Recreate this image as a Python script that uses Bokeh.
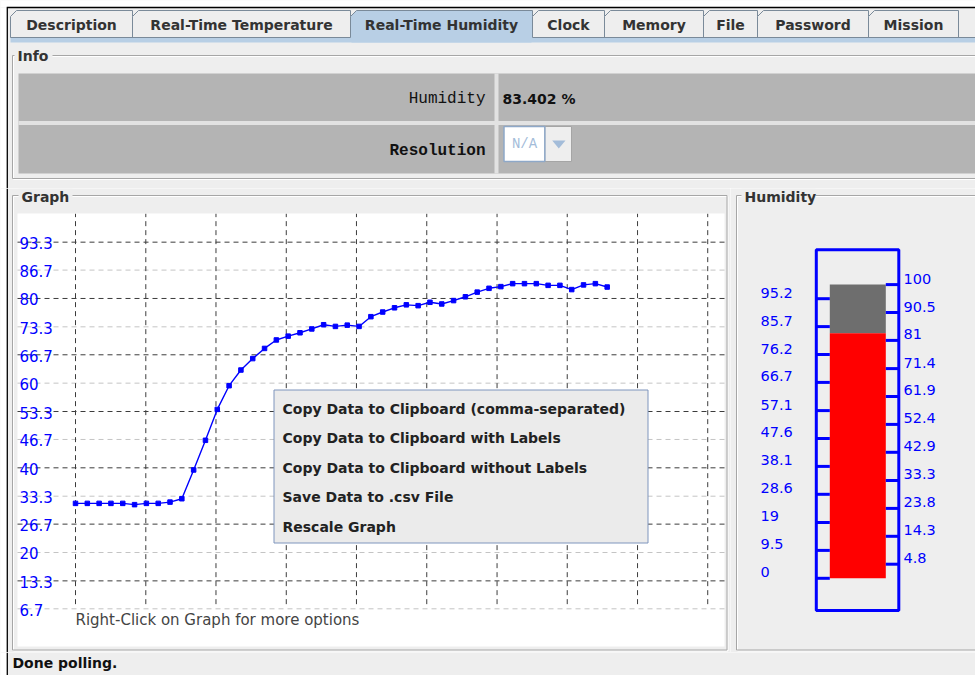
from bokeh.plotting import figure
from bokeh.models import Range1d
from bokeh.layouts import column, row
from bokeh.embed import file_html
from bokeh.resources import INLINE
from bokeh.core.properties import value

# ---------------- data ----------------
sample_index = list(range(46))
humidity = [31.6, 31.6, 31.6, 31.6, 31.6, 31.3, 31.6, 31.6, 31.9, 32.7,
            39.5, 46.5, 53.8, 59.4, 63.1, 65.8, 68.2, 70.2, 71.1, 71.9,
            72.8, 73.8, 73.4, 73.7, 73.4, 75.7, 76.8, 77.8, 78.5, 78.3,
            79.1, 78.7, 79.5, 80.4, 81.5, 82.4, 82.8, 83.5, 83.5, 83.5,
            83.1, 83.1, 82.1, 83.2, 83.5, 82.7]
graph_ticks_dark = [13.3, 26.7, 40, 53.3, 66.7, 80, 93.3]
graph_ticks_light = [6.7, 20, 33.3, 46.7, 60, 73.3, 86.7]
graph_tick_labels = ["6.7", "13.3", "20", "26.7", "33.3", "40", "46.7",
                     "53.3", "60", "66.7", "73.3", "80", "86.7", "93.3"]
graph_tick_values = [6.7, 13.3, 20, 26.7, 33.3, 40, 46.7, 53.3, 60, 66.7,
                     73.3, 80, 86.7, 93.3]
graph_vgrid = [0, 5.95, 11.89, 17.84, 23.78, 29.73, 35.68, 41.62, 47.57, 53.51]

current_humidity = 83.402
gauge_max = 100
gauge_left_ticks = [0, 9.5, 19, 28.6, 38.1, 47.6, 57.1, 66.7, 76.2, 85.7, 95.2]
gauge_left_labels = ["0", "9.5", "19", "28.6", "38.1", "47.6", "57.1", "66.7",
                     "76.2", "85.7", "95.2"]
gauge_right_ticks = [4.8, 14.3, 23.8, 33.3, 42.9, 52.4, 61.9, 71.4, 81, 90.5, 100]
gauge_right_labels = ["4.8", "14.3", "23.8", "33.3", "42.9", "52.4", "61.9",
                      "71.4", "81", "90.5", "100"]

tab_names = ["Description", "Real-Time Temperature", "Real-Time Humidity",
             "Clock", "Memory", "File", "Password", "Mission"]
tab_edges = [10, 132, 350, 532, 604, 703, 757, 868, 958]
selected_tab = 2
menu_items = ["Copy Data to Clipboard (comma-separated)",
              "Copy Data to Clipboard with Labels",
              "Copy Data to Clipboard without Labels",
              "Save Data to .csv File",
              "Rescale Graph"]

# ---------------- styles ----------------
BG = "#eeeeee"
BLUE = "#0000ff"
FONT = value("DejaVu Sans")
MONO = value("Liberation Mono")
TXT = "#333333"
W, H = 975, 675


def base_fig(w, h, xr, yr):
    p = figure(width=w, height=h, x_range=xr, y_range=yr,
               toolbar_location=None, output_backend="svg",
               x_axis_location=None, y_axis_location=None,
               min_border=0, outline_line_color=None, title=None)
    p.min_border_left = p.min_border_right = 0
    p.min_border_top = p.min_border_bottom = 0
    p.background_fill_color = BG
    p.border_fill_color = BG
    p.xgrid.visible = False
    p.ygrid.visible = False
    return p


def window_edge(p, y0, y1, **kw):
    p.quad(left=[-5], right=[6.2], top=[y0], bottom=[y1], fill_color="#ffffff",
           line_color=None, **kw)
    p.segment(x0=[6.8], y0=[max(y0, 6.6)], x1=[6.8], y1=[y1],
              line_color="#000000", line_width=1.3, **kw)


def etched(p, l, t, r, b, **kw):
    p.quad(left=[l + 1], right=[r + 1], top=[t + 1], bottom=[b + 1],
           fill_color=None, line_color="#ffffff", line_width=1, **kw)
    p.quad(left=[l], right=[r], top=[t], bottom=[b],
           fill_color=None, line_color="#a6a6a6", line_width=1, **kw)


def titled(p, x, y, text, w, **kw):
    p.quad(left=[x - 3], right=[x + w + 3], top=[y - 8], bottom=[y + 8],
           fill_color=BG, line_color=None, **kw)
    p.text(x=[x], y=[y], text=[text], text_font=FONT, text_font_style="bold",
           text_font_size="14px", text_color=TXT, text_baseline="middle",
           text_align="left", **kw)


# ---------------- top chrome (tabs + info) ----------------
top = base_fig(W, 188, Range1d(0, W), Range1d(188, 0))
top.quad(left=[-5], right=[W + 5], top=[-5], bottom=[6.4], fill_color="#ffffff",
         line_color=None)
top.segment(x0=[6.2], y0=[7.0], x1=[W + 5], y1=[7.0], line_color="#000000",
            line_width=1.3)
window_edge(top, 7, 188)
for i, name in enumerate(tab_names):
    x0, x1 = tab_edges[i], tab_edges[i + 1]
    fill = "#b8cfe5" if i == selected_tab else BG
    bot = 41 if i == selected_tab else 37
    top.patch(x=[x0, x0, x0 + 6, x1, x1], y=[bot, 16, 10, 10, bot],
              fill_color=fill, line_color="#7a8a99", line_width=1)
    top.text(x=[(x0 + x1) / 2], y=[24], text=[name], text_font=FONT,
             text_font_style="bold", text_font_size="14px", text_color=TXT,
             text_align="center", text_baseline="middle")
top.quad(left=[10], right=[W + 5], top=[37], bottom=[42], fill_color="#b8cfe5",
         line_color=None)
top.segment(x0=[10, tab_edges[selected_tab + 1]], y0=[37, 37],
            x1=[tab_edges[selected_tab], W + 5], y1=[37, 37],
            line_color="#7a8a99", line_width=1)
top.quad(left=[tab_edges[selected_tab] + 1], right=[tab_edges[selected_tab + 1] - 1],
         top=[36], bottom=[42], fill_color="#b8cfe5", line_color=None)
etched(top, 12, 55, 990, 178)
titled(top, 17, 55, "Info", 32)
top.quad(left=[18], right=[990], top=[73], bottom=[173], fill_color="#b4b4b4",
         line_color=None)
top.quad(left=[494], right=[498], top=[73], bottom=[173], fill_color="#e2e2e2",
         line_color=None)
top.quad(left=[18], right=[990], top=[120.5], bottom=[124.5], fill_color="#e2e2e2",
         line_color=None)
top.text(x=[485], y=[98], text=["Humidity"], text_font=MONO, text_font_size="16px",
         text_color="#111111", text_align="right", text_baseline="middle")
top.text(x=[485], y=[150], text=["Resolution"], text_font=MONO, text_font_style="bold",
         text_font_size="16px", text_color="#111111", text_align="right",
         text_baseline="middle")
top.text(x=[502], y=[98], text=[f"{current_humidity} %"], text_font=FONT,
         text_font_style="bold", text_font_size="14px", text_color="#111111",
         text_align="left", text_baseline="middle")
top.quad(left=[544.3], right=[571], top=[126], bottom=[161], fill_color=BG,
         line_color="#a5a5a5", line_width=1)
top.quad(left=[503.5], right=[544.3], top=[126], bottom=[161], fill_color="#ffffff",
         line_color="#8ea8c8", line_width=1.5)
top.text(x=[524], y=[143.5], text=["N/A"], text_font=MONO, text_font_size="14px",
         text_color="#a3bcd9", text_align="center", text_baseline="middle")
top.patch(x=[551.7, 565, 558.3], y=[140, 140, 148], fill_color="#a3bcd9",
          line_color=None)

# ---------------- graph ----------------
PX_PER_SAMPLE = 11.815
X0_PX = 75.0
Y100_PX = 213.3
PX_PER_Y = 4.2337
gL, gR, gT, gB = 0, 730, 188, 652


def gx(px):
    return (px - X0_PX) / PX_PER_SAMPLE


def gy(py):
    return 100 - (py - Y100_PX) / PX_PER_Y


graph = base_fig(gR - gL, gB - gT, Range1d(gx(gL), gx(gR)), Range1d(gy(gB), gy(gT)))
graph.extra_x_ranges = {"px": Range1d(gL, gR)}
graph.extra_y_ranges = {"px": Range1d(gB, gT)}
PX = dict(x_range_name="px", y_range_name="px")
window_edge(graph, gT, gB, **PX)
etched(graph, 12, 195, 726.5, 649.5, **PX)
titled(graph, 21, 196, "Graph", 48, **PX)
graph.quad(left=[17], right=[724], top=[213], bottom=[646], fill_color="#ffffff",
           line_color=None, **PX)

xl, xr = gx(17), gx(724)
graph.segment(x0=[xl] * len(graph_ticks_light), x1=[xr] * len(graph_ticks_light),
              y0=graph_ticks_light, y1=graph_ticks_light,
              line_color="#c4c4c4", line_width=1, line_dash="5 4")
graph.segment(x0=[xl] * len(graph_ticks_dark), x1=[xr] * len(graph_ticks_dark),
              y0=graph_ticks_dark, y1=graph_ticks_dark,
              line_color="#3c3c3c", line_width=1, line_dash="5 4")
graph.segment(x0=graph_vgrid, x1=graph_vgrid, y0=[7.8] * len(graph_vgrid),
              y1=[100] * len(graph_vgrid), line_color="#3c3c3c", line_width=1,
              line_dash="5 4")
graph.text(x=[gx(19)] * len(graph_tick_values), y=graph_tick_values,
           text=graph_tick_labels, text_font=FONT, text_font_size="15px",
           text_color=BLUE, text_align="left", text_baseline="alphabetic",
           y_offset=1)
graph.line(x=sample_index, y=humidity, line_color=BLUE, line_width=1.4)
graph.scatter(x=sample_index, y=humidity, marker="square", size=4.5,
              fill_color=BLUE, line_color=BLUE)
graph.text(x=[75], y=[619], text=["Right-Click on Graph for more options"],
           text_font=FONT, text_font_size="15px", text_color="#444444",
           text_align="left", text_baseline="middle", **PX)
# context menu
graph.quad(left=[273.5], right=[647.5], top=[389.5], bottom=[542.5],
           fill_color="#ebebeb", line_color="#7f95bd", line_width=1, **PX)
menu_y = [408, 437.5, 467, 496.5, 526]
graph.text(x=[282] * len(menu_items), y=menu_y, text=menu_items, text_font=FONT,
           text_font_style="bold", text_font_size="14px", text_color="#222222",
           text_align="left", text_baseline="middle", **PX)

# ---------------- gauge ----------------
Y0_PX = 577.8
PX_PER_G = 2.937


def vy(py):
    return (Y0_PX - py) / PX_PER_G


gauge = base_fig(W - gR, gB - gT, Range1d(gR, W), Range1d(vy(gB), vy(gT)))
gauge.extra_y_ranges = {"px": Range1d(gB, gT)}
GP = dict(y_range_name="px")
etched(gauge, 736, 195, 990, 649.5, **GP)
titled(gauge, 744, 196, "Humidity", 68, **GP)
gauge.quad(left=[829.3], right=[885.3], bottom=[current_humidity], top=[gauge_max],
           fill_color="#6e6e6e", line_color=None)
gauge.quad(left=[829.3], right=[885.3], bottom=[0], top=[current_humidity],
           fill_color="#ff0000", line_color=None)
gauge.segment(x0=[815.8] * len(gauge_left_ticks), x1=[829.3] * len(gauge_left_ticks),
              y0=gauge_left_ticks, y1=gauge_left_ticks, line_color=BLUE, line_width=3)
gauge.segment(x0=[885.3] * len(gauge_right_ticks), x1=[898.3] * len(gauge_right_ticks),
              y0=gauge_right_ticks, y1=gauge_right_ticks, line_color=BLUE, line_width=3)
gauge.quad(left=[815.8], right=[898.3], top=[249.3], bottom=[610], fill_color=None,
           line_color=BLUE, line_width=3, **GP)
gauge.text(x=[760] * len(gauge_left_ticks), y=gauge_left_ticks, text=gauge_left_labels,
           text_font=FONT, text_font_size="14.5px", text_color=BLUE,
           text_align="left", text_baseline="middle", y_offset=-6)
gauge.text(x=[903] * len(gauge_right_ticks), y=gauge_right_ticks,
           text=gauge_right_labels, text_font=FONT, text_font_size="14.5px",
           text_color=BLUE, text_align="left", text_baseline="middle", y_offset=-6)

# ---------------- status bar ----------------
status = base_fig(W, H - gB, Range1d(0, W), Range1d(H, gB))
window_edge(status, gB, H)
status.text(x=[12], y=[662.5], text=["Done polling."], text_font=FONT,
            text_font_style="bold", text_font_size="14px", text_color="#111111",
            text_align="left", text_baseline="middle")

layout = column(top, row(graph, gauge, spacing=0), status, spacing=0)
open("out.html", "w").write(file_html(layout, INLINE))
